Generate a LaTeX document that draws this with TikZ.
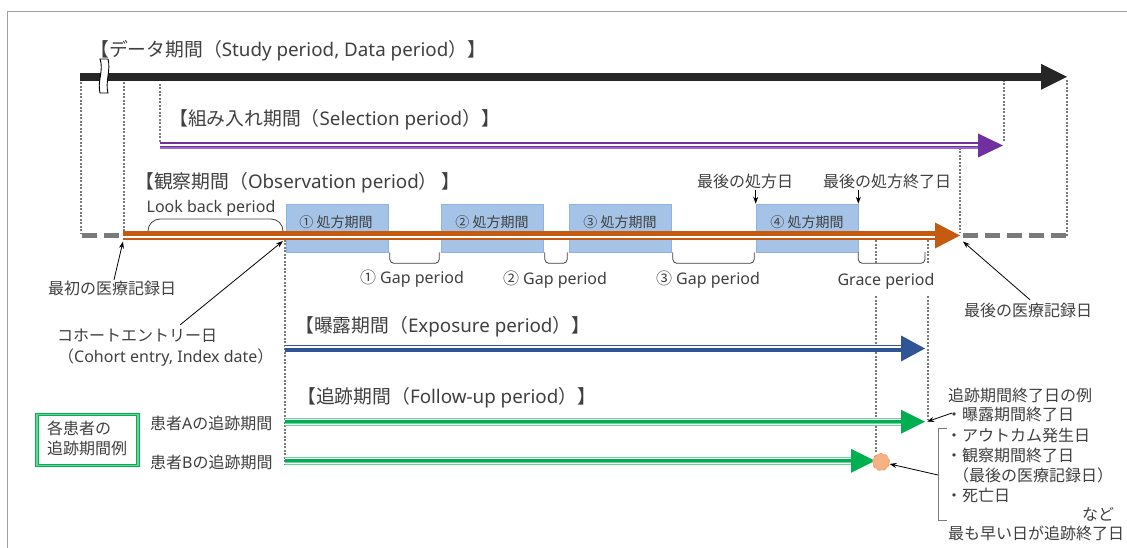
\documentclass[tikz,border=0pt]{standalone}
\usepackage{fontspec}
\setmainfont{Noto Sans}
\newfontfamily\jp{Noto Sans CJK JP}
\usetikzlibrary{arrows.meta}
\definecolor{txt}{HTML}{404040}
\definecolor{blk}{HTML}{262626}
\definecolor{pur}{HTML}{7030A0}
\definecolor{purl}{HTML}{9A6CC8}
\definecolor{org}{HTML}{C55A11}
\definecolor{blu}{HTML}{2F5597}
\definecolor{grn}{HTML}{00B050}
\definecolor{grnl}{HTML}{6ED39A}
\definecolor{boxf}{HTML}{A4C3E6}
\definecolor{boxd}{HTML}{8DB3E2}
\definecolor{cirf}{HTML}{F4B183}
\definecolor{cird}{HTML}{EE8B4E}
\definecolor{dotc}{HTML}{7A7A7A}
\definecolor{framec}{HTML}{A0A0A0}
\tikzset{
  ttl/.style={inner sep=0pt, anchor=west, text=txt, font=\fontsize{18.8}{22}\selectfont, text height=16.5pt, text depth=2.3pt},
  body/.style={inner sep=0pt, text=txt, font=\fontsize{16}{20}\selectfont, text height=14pt, text depth=2pt},
  small/.style={inner sep=0pt, text=txt, font=\fontsize{14}{18}\selectfont\jp, text height=12.3pt, text depth=1.7pt},
  dotl/.style={draw=dotc, line width=2.2pt, dash pattern=on 2pt off 1.5pt},
  gdash/.style={draw=dotc, line width=4.5pt, dash pattern=on 15pt off 7pt},
  brk/.style={draw=txt, line width=0.8pt, rounded corners=4pt},
  arr/.style={draw=black, line width=0.8pt, -{Stealth[length=7pt,width=5pt]}},
  pbox/.style={fill=boxf, draw=boxd, line width=0.6pt, minimum width=102pt, minimum height=48pt, inner sep=0pt},
  pics/tri/.style n args={3}{code={\fill[#1] (0,0) -- (-#2,-#3) -- (-#2,#3) -- cycle;}}
}
\begin{document}
\begin{tikzpicture}[x=1pt,y=-1pt]
\useasboundingbox (0,0) rectangle (1127,548);
\fill[white] (0,0) rectangle (1127,548);
\draw[framec, line width=1pt] (7,560) -- (7,12) -- (1140,12);

% ---------- guide lines (dotted) ----------
\draw[dotl] (81,79) -- (81,234);
\draw[dotl] (124,79) -- (124,234);
\draw[dotl] (160,84) -- (160,142);
\draw[dotl] (1004,80) -- (1004,142);
\draw[dotl] (1067,80) -- (1067,236);
\draw[dotl] (960,148) -- (960,233);
\draw[dotl] (285,236) -- (285,465);
\draw[dotl] (876,240) -- (876,263);
\draw[dotl] (876,296) -- (876,453);
\draw[dotl] (928,240) -- (928,263);
\draw[dotl] (928,296) -- (928,420);

% ---------- data period ----------
\node[ttl] (t1) at (90,49) {{\jp 【データ期間（}Study period, Data period{\jp ）】}};
\coordinate (dS) at (80,76.8);
\coordinate (dE) at (1067,76.8);
\draw[blk, line width=8.3pt] (dS) -- ([xshift=-22pt]dE);
\pic at (dE) {tri={blk}{26}{13}};
\draw[black, fill=white, line width=0.9pt] (100,59) .. controls (104,70) and (97,82) .. (100,93) -- (108,93) .. controls (105,82) and (111,70) .. (108,59) -- cycle;

% ---------- selection period ----------
\node[ttl] (t2) at (169,118) {{\jp 【組み入れ期間（}Selection period{\jp ）】}};
\coordinate (sS) at (160,145.5);
\coordinate (sE) at (1003,145.5);
\draw[pur, line width=7.5pt] (sS) -- ([xshift=-22pt]sE);
\draw[white, line width=2pt] (sS) -- ([xshift=-22pt]sE);
\draw[purl, line width=2.4pt] ([yshift=-2.6pt]sS) -- ([xshift=-22pt,yshift=-2.6pt]sE);
\pic at (sE) {tri={pur}{25}{12}};

% ---------- observation period ----------
\node[ttl] (t3) at (135,181.5) {{\jp 【観察期間（}Observation period{\jp ） 】}};
\node[body] (lb) at (211,207) {Look back period};
\draw[brk, rounded corners=12pt] (148,235) -- (148,219) -- (283,219) -- (283,235);

\node[pbox] (p1) at (337,228) {};
\node[pbox] (p2) at (492,228) {};
\node[pbox] (p3) at (620,228) {};
\node[pbox] (p4) at (807,228) {};
\node[small] (p1t) at (336,222) {① 処方期間};
\node[small] (p2t) at (492,222) {② 処方期間};
\node[small] (p3t) at (620,222) {③ 処方期間};
\node[small] (p4t) at (807,222) {④ 処方期間};

\coordinate (graceE) at (925,252);
\draw[brk] ([xshift=1.5pt]p1.south east) -- ++(0,11) -| ([xshift=-1.5pt]p2.south west);
\draw[brk] ([xshift=1.5pt]p2.south east) -- ++(0,11) -| ([xshift=-1.5pt]p3.south west);
\draw[brk] ([xshift=1.5pt]p3.south east) -- ++(0,11) -| ([xshift=-1.5pt]p4.south west);
\draw[brk] (p4.south east) -- ++(0,11) -| (graceE);

\node[body] (g1) at (412,277.5) {{\jp ①} Gap period};
\node[body] (g2) at (555,278) {{\jp ②} Gap period};
\node[body] (g3) at (708,278) {{\jp ③} Gap period};
\node[body] (gr) at (886,279) {Grace period};

\node[body] (lrx) at (745,182) {\jp 最後の処方日};
\node[body] (lre) at (887,182) {\jp 最後の処方終了日};
\draw[arr] (p4.north west |- lrx.south) -- (p4.north west);
\draw[arr] (p4.north east |- lre.south) -- (p4.north east);

\coordinate (oS) at (123,235.5);
\coordinate (oE) at (960,235.5);
\draw[gdash] (82,235.5) -- (oS);
\draw[gdash] ([xshift=3pt]oE) -- (1066,235.5);
\draw[org, line width=9pt] (oS) -- ([xshift=-20pt]oE);
\draw[white, line width=1.3pt] ([yshift=-1.4pt]oS) -- ([xshift=-20pt,yshift=-1.4pt]oE);
\pic at (oE) {tri={org}{25}{13}};

\node[body] (first) at (112,288) {\jp 最初の医療記録日};
\draw[arr] ([xshift=2pt]first.north) -- ([yshift=-6pt]oS);
\node[body, anchor=west] (coh1) at (57,335) {\jp コホートエントリー日};
\node[body, anchor=west] (coh2) at (58,356) {{\jp （}Cohort entry, Index date{\jp ）}};
\coordinate (entry) at (283,241);
\draw[arr] ([xshift=43pt,yshift=2pt]coh1.north) -- (entry);
\node[body] (lastrec) at (1028,310) {\jp 最後の医療記録日};
\draw[arr] ([xshift=2pt,yshift=2pt]lastrec.north) -- ([xshift=3pt,yshift=-6pt]oE);

% ---------- exposure period ----------
\node[ttl] (t4) at (295,325) {{\jp 【曝露期間（}Exposure period{\jp ）】}};
\coordinate (eS) at (285,348.5);
\coordinate (eE) at (925,348.5);
\draw[blu, line width=7.5pt] (eS) -- ([xshift=-20pt]eE);
\draw[white, line width=1.3pt] ([yshift=1.6pt]eS) -- ([xshift=-20pt,yshift=1.6pt]eE);
\pic at (eE) {tri={blu}{24}{13}};

% ---------- follow-up period ----------
\node[ttl] (t5) at (297,396.5) {{\jp 【追跡期間（}Follow-up period{\jp ）】}};
\coordinate (aS) at (285,421.7);
\coordinate (aE) at (925,421.7);
\coordinate (bS) at (285,460.8);
\coordinate (bE) at (875,460.8);
\foreach \s/\e in {aS/aE, bS/bE}{
  \draw[grnl, line width=8pt] (\s) -- ([xshift=-20pt]\e);
  \draw[grn, line width=3pt] (\s) -- ([xshift=-20pt]\e);
  \draw[white, line width=0.7pt] ([yshift=2.4pt]\s) -- ([xshift=-20pt,yshift=2.4pt]\e);
  \draw[white, line width=0.7pt] ([yshift=-2.4pt]\s) -- ([xshift=-20pt,yshift=-2.4pt]\e);
}
\pic at (aE) {tri={grn}{24}{12}};
\pic at (bE) {tri={grn}{24}{12}};
\node[circle, fill=cirf, draw=cird, dashed, line width=0.6pt, minimum size=17pt, inner sep=0pt] (endB) at (881,462) {};

\node[draw=grn, double=grnl, double distance=1.6pt, line width=1.1pt, minimum width=101pt, minimum height=51pt, inner sep=0pt] (ex) at (87.5,440) {};
\node[body, anchor=west] (ex1) at (47,428) {\jp 各患者の};
\node[body, anchor=west] (ex2) at (47,448) {\jp 追跡期間例};
\node[body, anchor=west] (pa) at (150,423) {{\jp 患者}A{\jp の追跡期間}};
\node[body, anchor=west] (pb) at (150,462) {{\jp 患者}B{\jp の追跡期間}};

% ---------- notes ----------
\node[body, anchor=west] (n0) at (948,395) {\jp 追跡期間終了日の例};
\node[body, anchor=west] (n1) at (946,414) {\jp ・曝露期間終了日};
\node[body, anchor=west] (n2) at (946,435) {\jp ・アウトカム発生日};
\node[body, anchor=west] (n3) at (946,455) {\jp ・観察期間終了日};
\node[body, anchor=west] (n4) at (953,475) {\jp （最後の医療記録日）};
\node[body, anchor=west] (n5) at (946,495) {\jp ・死亡日};
\node[body, anchor=west] (n6) at (1082,514) {\jp など};
\node[body, anchor=west] (n7) at (948,533) {\jp 最も早い日が追跡終了日};
\coordinate (bt) at (947,428);
\coordinate (bb) at (947,520);
\draw[dotc, line width=0.9pt] (bt) -- (938,428) -- (938,520) -- (bb);
\coordinate (bm) at (938,475);
\draw[arr] (bm) -- (endB);
\draw[arr] ([xshift=6pt,yshift=1pt]n1.west) -- ([xshift=2pt]aE);
\end{tikzpicture}
\end{document}
